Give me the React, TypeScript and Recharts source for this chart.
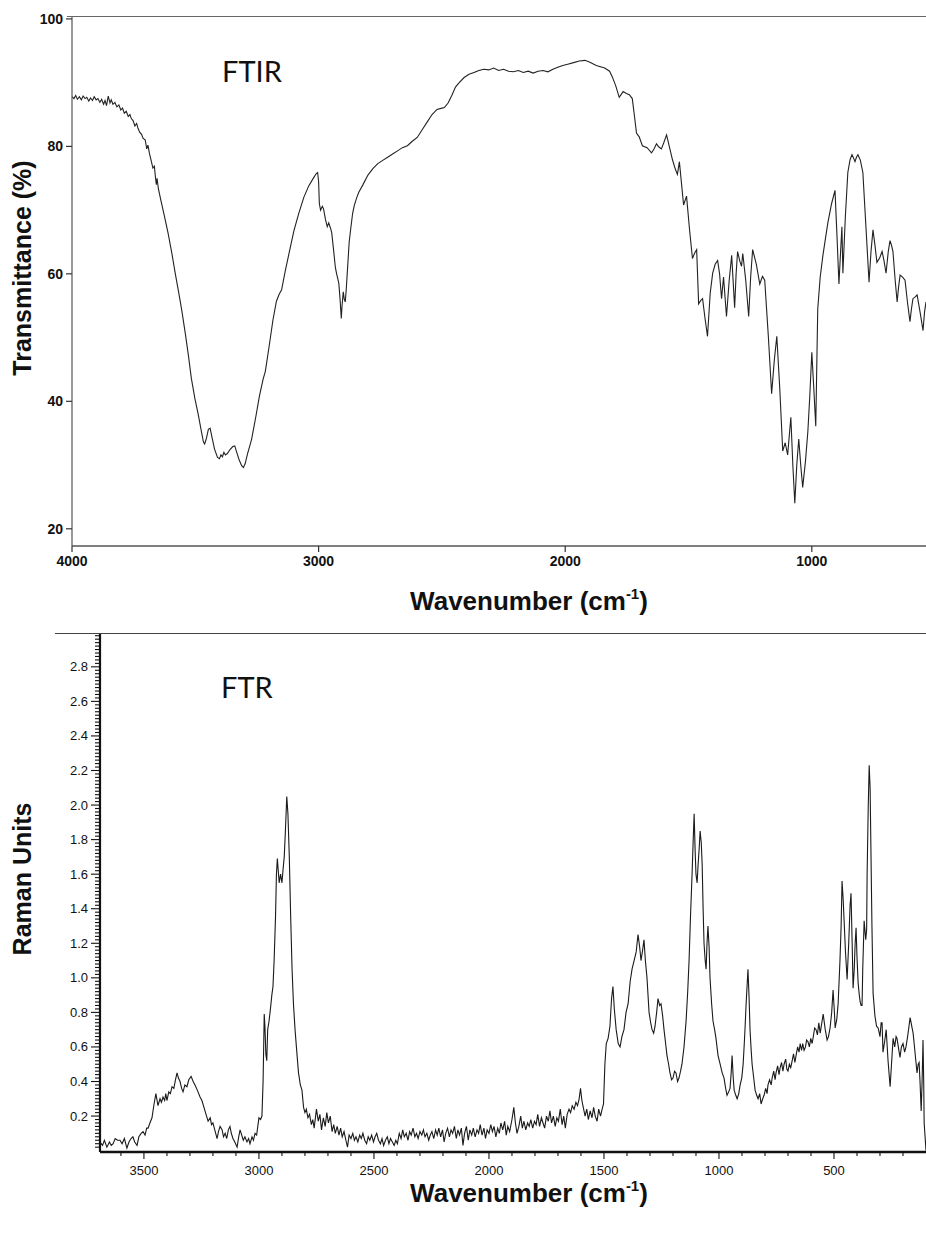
import React from 'react';
import { LineChart, Line, XAxis, YAxis } from 'recharts';

// ---------- FTIR spectrum: [wavenumber (cm-1), transmittance (%)] ----------
const ftirSpectrum: [number, number][] = [
  [4000, 87.8], [3992, 87.5], [3985, 88.0], [3978, 87.4], [3970, 87.8], [3962, 87.3], [3955, 87.9],
  [3947, 87.5], [3940, 87.7], [3932, 87.1], [3925, 87.6], [3917, 87.2], [3910, 87.8], [3902, 87.3],
  [3895, 87.5], [3887, 86.9], [3880, 87.4], [3872, 86.6], [3866, 87.2], [3860, 86.4], [3853, 87.9],
  [3846, 86.8], [3841, 87.3], [3834, 86.6], [3826, 86.9], [3818, 86.2], [3810, 86.5], [3802, 85.7],
  [3795, 86.0], [3788, 85.2], [3780, 85.5], [3772, 84.7], [3765, 85.0], [3760, 84.4], [3752, 84.0],
  [3745, 83.2], [3738, 83.6], [3732, 82.8], [3725, 82.2], [3718, 81.9], [3712, 81.3], [3703, 81.0],
  [3697, 79.6], [3692, 80.2], [3686, 78.9], [3678, 77.6], [3672, 76.6], [3666, 76.9], [3662, 75.3],
  [3658, 74.0], [3655, 75.0], [3650, 73.4], [3640, 71.6], [3625, 69.0], [3610, 66.3], [3595, 63.2],
  [3581, 60.0], [3568, 57.2], [3555, 54.3], [3540, 50.5], [3528, 47.2], [3516, 43.6], [3502, 40.5],
  [3488, 37.9], [3475, 35.2], [3467, 33.6], [3462, 33.3], [3455, 34.2], [3447, 35.6], [3440, 35.8],
  [3432, 34.3], [3422, 32.5], [3410, 31.2], [3402, 31.0], [3396, 31.6], [3390, 31.3], [3384, 32.0],
  [3378, 31.6], [3370, 31.8], [3360, 32.4], [3348, 32.9], [3340, 33.0], [3332, 32.0], [3322, 30.8],
  [3312, 29.9], [3305, 29.6], [3298, 30.2], [3288, 31.8], [3272, 34.0], [3255, 37.5], [3240, 40.8],
  [3225, 43.5], [3216, 44.7], [3200, 48.8], [3185, 52.8], [3171, 55.7], [3160, 56.8], [3150, 57.5],
  [3135, 60.5], [3120, 63.2], [3100, 66.8], [3081, 69.4], [3060, 72.0], [3040, 73.8], [3020, 75.1],
  [3010, 75.7], [3004, 75.9], [3000, 74.5], [2997, 71.0], [2992, 70.0], [2985, 70.6], [2980, 70.2],
  [2972, 68.5], [2965, 67.4], [2959, 68.0], [2952, 67.2], [2947, 66.5], [2940, 64.0], [2932, 61.0],
  [2927, 60.0], [2922, 59.2], [2918, 58.5], [2913, 56.0], [2908, 53.0], [2905, 55.0], [2900, 57.2],
  [2896, 56.0], [2892, 55.6], [2888, 57.5], [2884, 60.0], [2880, 62.5], [2876, 65.0], [2870, 67.0],
  [2862, 69.5], [2855, 70.8], [2845, 72.0], [2837, 72.8], [2820, 74.0], [2800, 75.5], [2780, 76.5],
  [2760, 77.3], [2740, 77.8], [2720, 78.3], [2700, 78.8], [2680, 79.3], [2660, 79.8], [2640, 80.1],
  [2620, 80.8], [2600, 81.4], [2580, 82.6], [2560, 83.8], [2540, 85.0], [2520, 85.8], [2500, 86.0],
  [2490, 86.1], [2475, 86.8], [2460, 88.0], [2445, 89.3], [2430, 90.0], [2410, 90.8], [2390, 91.3],
  [2370, 91.6], [2350, 91.9], [2330, 92.1], [2310, 92.0], [2290, 92.3], [2270, 91.9], [2250, 92.1],
  [2230, 91.8], [2210, 91.7], [2190, 91.9], [2170, 91.6], [2150, 91.8], [2130, 91.5], [2110, 91.8],
  [2090, 91.9], [2070, 91.7], [2050, 92.1], [2030, 92.4], [2010, 92.7], [1990, 92.9], [1970, 93.1],
  [1943, 93.4], [1920, 93.5], [1900, 93.2], [1874, 92.7], [1840, 92.3], [1820, 91.8], [1809, 90.9],
  [1795, 89.5], [1781, 87.7], [1765, 88.6], [1752, 88.3], [1740, 88.1], [1728, 87.5], [1720, 85.0],
  [1711, 82.1], [1700, 81.5], [1687, 80.1], [1668, 79.8], [1650, 79.0], [1640, 79.6], [1630, 80.4],
  [1620, 79.9], [1610, 79.6], [1600, 80.6], [1589, 81.8], [1578, 80.0], [1565, 77.9], [1555, 76.6],
  [1545, 75.6], [1537, 77.6], [1528, 74.0], [1520, 70.8], [1508, 72.2], [1496, 67.0], [1484, 62.4],
  [1476, 63.2], [1467, 63.8], [1459, 55.3], [1451, 55.8], [1443, 56.1], [1433, 53.0], [1423, 50.2],
  [1412, 57.0], [1402, 60.1], [1392, 61.5], [1382, 62.1], [1374, 60.0], [1366, 56.1], [1358, 59.5],
  [1346, 53.3], [1335, 59.0], [1325, 62.9], [1313, 54.7], [1307, 60.0], [1301, 63.5], [1292, 62.0],
  [1285, 61.2], [1280, 63.2], [1268, 59.0], [1256, 53.3], [1248, 59.5], [1240, 63.8], [1225, 61.5],
  [1211, 58.4], [1200, 59.6], [1191, 59.0], [1176, 50.0], [1163, 41.2], [1152, 46.5], [1142, 50.2],
  [1130, 42.0], [1118, 32.2], [1108, 33.5], [1098, 31.6], [1085, 37.5], [1077, 30.0], [1069, 24.0],
  [1061, 30.0], [1053, 34.1], [1045, 30.0], [1037, 26.5], [1026, 30.5], [1016, 35.3], [1008, 41.0],
  [1000, 47.7], [992, 42.0], [984, 36.1], [976, 54.5], [966, 59.5], [955, 62.9], [945, 65.5],
  [935, 68.0], [920, 71.0], [906, 73.1], [898, 66.0], [890, 58.4], [884, 63.0], [878, 67.4],
  [874, 60.1], [864, 69.0], [854, 75.9], [845, 77.9], [837, 78.7], [831, 78.2], [825, 77.6],
  [819, 78.3], [813, 78.7], [803, 77.8], [793, 75.9], [780, 67.0], [768, 58.7], [760, 63.5],
  [752, 66.9], [744, 64.5], [736, 61.8], [725, 62.5], [715, 63.5], [707, 62.0], [699, 60.1],
  [690, 63.5], [683, 65.2], [677, 64.5], [671, 63.5], [662, 59.0], [654, 55.6], [648, 58.0],
  [642, 59.8], [632, 59.5], [622, 59.0], [612, 55.5], [602, 52.5], [596, 54.5], [590, 56.1],
  [581, 56.4], [573, 56.7], [561, 54.0], [549, 51.1], [543, 54.0], [537, 55.6],
];

// ---------- FT-Raman spectrum: [Raman shift (cm-1), Raman units] ----------
const ramanSpectrum: [number, number][] = [
  [3691, 0.05], [3680, 0.03], [3672, 0.06], [3661, 0.02], [3650, 0.05], [3642, 0.03], [3634, 0.04],
  [3625, 0.07], [3615, 0.06], [3604, 0.06], [3595, 0.04], [3585, 0.07], [3574, 0.015], [3565, 0.05],
  [3556, 0.07], [3548, 0.08], [3540, 0.05], [3530, 0.03], [3522, 0.08], [3512, 0.1], [3504, 0.11],
  [3495, 0.09], [3488, 0.13], [3482, 0.13], [3474, 0.16], [3465, 0.19], [3456, 0.27], [3448, 0.33],
  [3439, 0.26], [3430, 0.3], [3424, 0.28], [3417, 0.31], [3410, 0.29], [3405, 0.33], [3400, 0.29],
  [3392, 0.34], [3385, 0.33], [3378, 0.37], [3370, 0.36], [3363, 0.41], [3356, 0.45], [3350, 0.42],
  [3343, 0.4], [3336, 0.36], [3330, 0.34], [3322, 0.38], [3313, 0.37], [3305, 0.41], [3295, 0.43],
  [3286, 0.4], [3278, 0.38], [3268, 0.35], [3256, 0.31], [3248, 0.29], [3239, 0.25], [3230, 0.21],
  [3221, 0.17], [3212, 0.19], [3206, 0.15], [3200, 0.16], [3192, 0.12], [3182, 0.07], [3176, 0.11],
  [3169, 0.14], [3160, 0.12], [3154, 0.08], [3147, 0.1], [3140, 0.07], [3133, 0.12], [3126, 0.14],
  [3120, 0.1], [3113, 0.07], [3105, 0.05], [3095, 0.02], [3088, 0.08], [3082, 0.12], [3075, 0.09],
  [3068, 0.06], [3061, 0.08], [3052, 0.05], [3045, 0.07], [3039, 0.04], [3030, 0.08], [3024, 0.06],
  [3017, 0.1], [3010, 0.09], [3005, 0.14], [3000, 0.19], [2993, 0.18], [2987, 0.2], [2982, 0.4],
  [2977, 0.79], [2974, 0.72], [2970, 0.56], [2966, 0.52], [2962, 0.7], [2956, 0.75], [2950, 0.82],
  [2944, 0.9], [2939, 0.95], [2934, 1.1], [2928, 1.35], [2924, 1.6], [2920, 1.69], [2916, 1.62],
  [2912, 1.55], [2906, 1.6], [2900, 1.55], [2895, 1.63], [2890, 1.7], [2885, 1.85], [2879, 2.05],
  [2874, 1.95], [2868, 1.7], [2862, 1.35], [2856, 1.05], [2850, 0.85], [2843, 0.7], [2836, 0.58],
  [2828, 0.45], [2820, 0.38], [2813, 0.35], [2806, 0.25], [2800, 0.22], [2794, 0.24], [2787, 0.19],
  [2780, 0.21], [2772, 0.15], [2766, 0.18], [2760, 0.13], [2750, 0.24], [2742, 0.17], [2735, 0.21],
  [2728, 0.12], [2720, 0.19], [2712, 0.14], [2705, 0.22], [2698, 0.16], [2690, 0.2], [2682, 0.11],
  [2675, 0.15], [2668, 0.1], [2660, 0.14], [2652, 0.09], [2645, 0.13], [2638, 0.08], [2630, 0.11],
  [2622, 0.06], [2615, 0.02], [2608, 0.09], [2600, 0.07], [2592, 0.1], [2585, 0.06], [2578, 0.08],
  [2570, 0.05], [2562, 0.09], [2555, 0.07], [2548, 0.1], [2540, 0.06], [2532, 0.04], [2525, 0.08],
  [2518, 0.06], [2510, 0.09], [2502, 0.05], [2495, 0.08], [2488, 0.1], [2480, 0.06], [2472, 0.04],
  [2465, 0.07], [2458, 0.03], [2450, 0.06], [2442, 0.08], [2435, 0.04], [2428, 0.07], [2420, 0.05],
  [2412, 0.03], [2405, 0.06], [2398, 0.04], [2390, 0.1], [2382, 0.07], [2375, 0.12], [2368, 0.08],
  [2360, 0.1], [2352, 0.06], [2345, 0.11], [2338, 0.09], [2330, 0.13], [2322, 0.08], [2315, 0.1],
  [2308, 0.07], [2300, 0.11], [2292, 0.09], [2285, 0.12], [2278, 0.08], [2270, 0.1], [2262, 0.06],
  [2255, 0.09], [2248, 0.11], [2240, 0.07], [2232, 0.12], [2225, 0.09], [2218, 0.13], [2210, 0.08],
  [2202, 0.12], [2195, 0.05], [2188, 0.1], [2180, 0.13], [2172, 0.08], [2165, 0.12], [2158, 0.1],
  [2150, 0.14], [2142, 0.07], [2135, 0.12], [2128, 0.09], [2120, 0.13], [2113, 0.03], [2106, 0.1],
  [2098, 0.14], [2090, 0.06], [2083, 0.12], [2075, 0.09], [2068, 0.13], [2060, 0.08], [2052, 0.12],
  [2045, 0.1], [2038, 0.15], [2030, 0.09], [2022, 0.13], [2015, 0.07], [2008, 0.12], [2000, 0.1],
  [1992, 0.15], [1985, 0.11], [1978, 0.14], [1970, 0.08], [1962, 0.13], [1955, 0.1], [1948, 0.16],
  [1940, 0.12], [1932, 0.17], [1925, 0.09], [1918, 0.14], [1910, 0.11], [1900, 0.18], [1892, 0.25],
  [1885, 0.16], [1878, 0.1], [1870, 0.14], [1862, 0.2], [1855, 0.13], [1848, 0.17], [1840, 0.12],
  [1832, 0.16], [1825, 0.14], [1818, 0.18], [1810, 0.13], [1802, 0.17], [1795, 0.15], [1788, 0.21],
  [1780, 0.14], [1772, 0.19], [1765, 0.16], [1758, 0.13], [1750, 0.2], [1742, 0.17], [1735, 0.23],
  [1728, 0.16], [1720, 0.2], [1712, 0.14], [1705, 0.19], [1698, 0.17], [1690, 0.24], [1682, 0.15],
  [1675, 0.2], [1668, 0.13], [1660, 0.21], [1652, 0.24], [1645, 0.22], [1638, 0.26], [1630, 0.24],
  [1622, 0.28], [1615, 0.26], [1608, 0.3], [1602, 0.36], [1596, 0.29], [1590, 0.25], [1582, 0.2],
  [1575, 0.24], [1568, 0.18], [1560, 0.23], [1552, 0.19], [1545, 0.25], [1538, 0.2], [1530, 0.17],
  [1523, 0.24], [1515, 0.2], [1508, 0.24], [1502, 0.27], [1496, 0.5], [1490, 0.62], [1482, 0.65],
  [1474, 0.72], [1467, 0.88], [1461, 0.95], [1455, 0.82], [1447, 0.7], [1438, 0.62], [1430, 0.6],
  [1422, 0.66], [1413, 0.7], [1404, 0.8], [1395, 0.85], [1386, 0.98], [1378, 1.05], [1369, 1.1],
  [1360, 1.15], [1352, 1.25], [1345, 1.18], [1339, 1.1], [1332, 1.16], [1326, 1.22], [1320, 1.1],
  [1313, 1.0], [1304, 0.8], [1297, 0.74], [1291, 0.7], [1284, 0.68], [1278, 0.72], [1271, 0.8],
  [1265, 0.88], [1258, 0.84], [1252, 0.85], [1245, 0.78], [1239, 0.7], [1232, 0.62], [1226, 0.55],
  [1219, 0.5], [1213, 0.45], [1206, 0.41], [1200, 0.42], [1193, 0.46], [1187, 0.45], [1180, 0.4],
  [1174, 0.42], [1167, 0.46], [1161, 0.5], [1152, 0.6], [1143, 0.75], [1136, 0.92], [1130, 1.1],
  [1124, 1.35], [1117, 1.6], [1112, 1.8], [1108, 1.95], [1104, 1.75], [1100, 1.6], [1095, 1.55],
  [1091, 1.65], [1086, 1.75], [1082, 1.85], [1077, 1.78], [1073, 1.65], [1069, 1.4], [1065, 1.2],
  [1060, 1.1], [1056, 1.05], [1052, 1.2], [1048, 1.3], [1043, 1.18], [1039, 1.0], [1032, 0.85],
  [1026, 0.75], [1019, 0.7], [1013, 0.65], [1004, 0.55], [995, 0.5], [986, 0.45], [978, 0.42],
  [971, 0.36], [965, 0.32], [958, 0.34], [952, 0.36], [947, 0.45], [943, 0.55], [938, 0.42],
  [934, 0.35], [927, 0.32], [921, 0.3], [914, 0.33], [908, 0.38], [901, 0.42], [895, 0.5],
  [890, 0.62], [887, 0.7], [882, 0.85], [878, 0.95], [874, 1.05], [869, 0.88], [865, 0.7],
  [860, 0.58], [856, 0.5], [849, 0.42], [843, 0.35], [836, 0.32], [830, 0.3], [823, 0.33],
  [817, 0.27], [810, 0.3], [804, 0.32], [797, 0.36], [791, 0.33], [787, 0.38], [780, 0.41],
  [773, 0.38], [769, 0.42], [762, 0.46], [756, 0.41], [752, 0.45], [745, 0.49], [739, 0.44],
  [734, 0.48], [728, 0.51], [722, 0.46], [717, 0.5], [710, 0.53], [705, 0.47], [700, 0.46],
  [694, 0.5], [688, 0.48], [682, 0.52], [676, 0.56], [670, 0.51], [665, 0.55], [658, 0.6],
  [652, 0.57], [647, 0.62], [641, 0.58], [636, 0.62], [630, 0.58], [624, 0.6], [619, 0.64],
  [613, 0.63], [607, 0.6], [601, 0.65], [595, 0.62], [590, 0.66], [584, 0.71], [578, 0.7],
  [572, 0.67], [566, 0.74], [560, 0.68], [547, 0.79], [538, 0.7], [530, 0.64], [524, 0.66],
  [517, 0.71], [510, 0.8], [504, 0.93], [499, 0.82], [495, 0.71], [488, 0.76], [482, 0.85],
  [474, 1.1], [469, 1.3], [465, 1.56], [460, 1.45], [456, 1.33], [450, 1.15], [443, 0.99],
  [436, 1.2], [430, 1.42], [426, 1.49], [421, 1.2], [417, 0.94], [412, 1.05], [408, 1.2],
  [404, 1.29], [400, 1.12], [395, 0.97], [390, 0.9], [386, 0.86], [382, 0.84], [378, 0.84],
  [375, 1.05], [369, 1.33], [362, 1.22], [358, 1.28], [356, 1.6], [351, 2.0], [347, 2.23],
  [343, 2.1], [339, 1.7], [335, 1.3], [330, 0.91], [322, 0.78], [315, 0.72], [308, 0.71],
  [300, 0.66], [295, 0.74], [291, 0.74], [287, 0.57], [280, 0.63], [273, 0.7], [265, 0.52],
  [256, 0.37], [250, 0.5], [243, 0.65], [236, 0.6], [230, 0.66], [226, 0.65], [218, 0.58],
  [213, 0.54], [207, 0.6], [200, 0.62], [193, 0.57], [187, 0.6], [180, 0.66], [174, 0.72],
  [169, 0.77], [162, 0.72], [156, 0.68], [150, 0.6], [145, 0.53], [139, 0.45], [134, 0.5],
  [130, 0.51], [126, 0.4], [121, 0.23], [117, 0.4], [113, 0.64], [110, 0.4], [108, 0.16],
  [104, 0.08], [100, 0.0],
];

// ---------- axes ----------
const ftirXTicks = [4000, 3000, 2000, 1000];
const ftirYTicks = [20, 40, 60, 80, 100];
const ftirXDomain: [number, number] = [537, 4000];
const ftirYDomain: [number, number] = [17.3, 100.3];

const ramanXLabels = [3500, 3000, 2500, 2000, 1500, 1000, 500];
const ramanYLabels = [0.2, 0.4, 0.6, 0.8, 1.0, 1.2, 1.4, 1.6, 1.8, 2.0, 2.2, 2.4, 2.6, 2.8];
const ramanXDomain: [number, number] = [100, 3691];
const ramanYDomain: [number, number] = [-0.008, 2.99];

const ramanXTickPositions: number[] = [];
for (let w = 200; w <= 3600; w += 100) ramanXTickPositions.push(w);
const ramanYTickPositions: number[] = [];
for (let i = 1; i <= 149; i++) ramanYTickPositions.push(Math.round(i * 2) / 100);

const ftirData = ftirSpectrum.map(([wn, t]) => ({ wn, t }));
const ramanData = ramanSpectrum.map(([wn, r]) => ({ wn, r }));

const FONT = '"Liberation Sans", Arial, Helvetica, sans-serif';

const RamanYTick = (props: any) => {
  const { x, y, payload } = props;
  const v = payload.value as number;
  const major = ramanYLabels.some((m) => Math.abs(m - v) < 1e-6);
  return (
    <g>
      <line x1={x - (major ? 9 : 5)} x2={x} y1={y} y2={y} stroke="#111" strokeWidth={1.1} />
      {major && (
        <text x={x - 12} y={y} dy={4.5} textAnchor="end" fontSize={13} fill="#111" fontFamily={FONT}>
          {v.toFixed(1)}
        </text>
      )}
    </g>
  );
};

const RamanXTick = (props: any) => {
  const { x, y, payload } = props;
  const v = payload.value as number;
  const major = ramanXLabels.includes(v);
  return (
    <g>
      <line x1={x} x2={x} y1={y} y2={y + (major ? 7 : 4)} stroke="#111" strokeWidth={1.1} />
      {major && (
        <text x={x} y={y + 23} textAnchor="middle" fontSize={13} fill="#111" fontFamily={FONT}>
          {v}
        </text>
      )}
    </g>
  );
};

const yTitle = (text: string, cx: number, cy: number) => (
  <div
    style={{
      position: 'absolute',
      left: cx,
      top: cy,
      transform: 'translate(-50%, -50%) rotate(-90deg)',
      whiteSpace: 'nowrap',
      fontFamily: FONT,
      fontWeight: 700,
      fontSize: 25,
      lineHeight: 1,
      color: '#111',
    }}
  >
    {text}
  </div>
);

const xTitle = (cx: number, cy: number) => (
  <div
    style={{
      position: 'absolute',
      left: cx,
      top: cy,
      transform: 'translate(-50%, -50%)',
      whiteSpace: 'nowrap',
      fontFamily: FONT,
      fontWeight: 700,
      fontSize: 26,
      lineHeight: 1,
      color: '#111',
    }}
  >
    Wavenumber (cm<sup style={{ fontSize: 15, verticalAlign: 0, position: 'relative', top: -11 }}>-1</sup>)
  </div>
);

const panelLabel = (text: string, left: number, top: number) => (
  <div
    style={{
      position: 'absolute',
      left,
      top,
      fontFamily: 'Lato, "Open Sans", sans-serif',
      fontSize: 29,
      lineHeight: 1,
      color: '#111',
    }}
  >
    {text}
  </div>
);

export default function App() {
  return (
    <div
      style={{
        position: 'absolute',
        left: 0,
        top: 0,
        width: 926,
        height: 1235,
        background: '#fff',
        overflow: 'hidden',
        fontFamily: FONT,
      }}
    >
      {/* FTIR panel */}
      <div style={{ position: 'absolute', left: 0, top: 0 }}>
        <LineChart width={926} height={620} data={ftirData} margin={{ top: 17, right: 0, bottom: 0, left: 0 }}>
          <XAxis
            dataKey="wn"
            type="number"
            domain={ftirXDomain}
            reversed
            allowDataOverflow
            ticks={ftirXTicks}
            interval={0}
            height={74}
            tickSize={6}
            tickMargin={4}
            stroke="#444"
            axisLine={{ stroke: '#555', strokeWidth: 1.3 }}
            tickLine={{ stroke: '#333', strokeWidth: 1.2 }}
            tick={{ fill: '#111', fontSize: 14, fontWeight: 700, fontFamily: FONT }}
          />
          <YAxis
            type="number"
            domain={ftirYDomain}
            allowDataOverflow
            ticks={ftirYTicks}
            interval={0}
            width={72}
            tickSize={6}
            tickMargin={3}
            axisLine={{ stroke: '#555', strokeWidth: 1.2 }}
            tickLine={{ stroke: '#333', strokeWidth: 1.2 }}
            tick={{ fill: '#111', fontSize: 14, fontWeight: 700, fontFamily: FONT }}
          />
          <Line
            type="linear"
            dataKey="t"
            stroke="#222"
            strokeWidth={1.1}
            dot={false}
            activeDot={false}
            isAnimationActive={false}
          />
        </LineChart>
      </div>
      <div style={{ position: 'absolute', left: 67, top: 16, width: 859, height: 0, borderTop: '1.3px solid #666' }} />

      {/* FT-Raman panel */}
      <div style={{ position: 'absolute', left: 0, top: 620 }}>
        <LineChart width={926} height={615} data={ramanData} margin={{ top: 14, right: 0, bottom: 0, left: 0 }}>
          <XAxis
            dataKey="wn"
            type="number"
            domain={ramanXDomain}
            reversed
            allowDataOverflow
            ticks={ramanXTickPositions}
            interval={0}
            height={83}
            tickSize={0}
            tickMargin={0}
            tickLine={false}
            axisLine={{ stroke: '#111', strokeWidth: 2.6 }}
            tick={<RamanXTick />}
          />
          <YAxis
            type="number"
            domain={ramanYDomain}
            allowDataOverflow
            ticks={ramanYTickPositions}
            interval={0}
            width={100}
            tickSize={0}
            tickMargin={0}
            tickLine={false}
            axisLine={{ stroke: '#111', strokeWidth: 2.2 }}
            tick={<RamanYTick />}
          />
          <Line
            type="linear"
            dataKey="r"
            stroke="#1a1a1a"
            strokeWidth={1.1}
            dot={false}
            activeDot={false}
            isAnimationActive={false}
          />
        </LineChart>
      </div>
      <div style={{ position: 'absolute', left: 55, top: 633, width: 871, height: 0, borderTop: '1.4px solid #444' }} />

      {/* titles */}
      {yTitle('Transmittance (%)', 22, 268)}
      {yTitle('Raman Units', 22, 879)}
      {xTitle(529, 601)}
      {xTitle(529, 1193)}
      {panelLabel('FTIR', 222, 56)}
      {panelLabel('FTR', 221, 672)}
    </div>
  );
}
